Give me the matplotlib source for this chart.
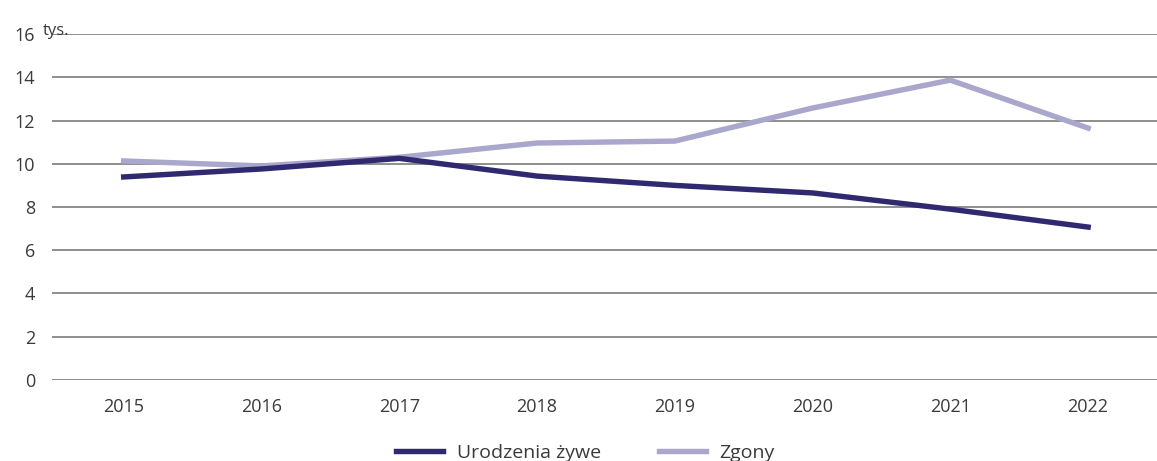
import matplotlib.pyplot as plt
import numpy as np

plt.rcParams['font.family'] = ['Open Sans', 'DejaVu Sans']

years = ['2015', '2016', '2017', '2018', '2019', '2020', '2021', '2022']
urodzenia = [9.39, 9.76, 10.25, 9.43, 9.0, 8.65, 7.9, 7.07]
zgony = [10.13, 9.9, 10.3, 10.96, 11.05, 12.58, 13.87, 11.65]
y_ticks = [0, 2, 4, 6, 8, 10, 12, 14, 16]

DARK = '#2f2a70'
LIGHT = '#aaa7cd'
GRID = '#8e8e8e'
TEXT = '#3a3a3a'

fig = plt.figure(figsize=(11.57, 4.61), dpi=100)
ax = fig.add_axes([0.045, 0.176, 0.955, 0.75])

x = np.arange(len(years))
for t in y_ticks:
    ax.axhline(t, color=GRID, lw=1.4, zorder=1)

ax.plot(x, zgony, color=LIGHT, lw=3.9, label='Zgony', zorder=3)
ax.plot(x, urodzenia, color=DARK, lw=3.9, label='Urodzenia żywe', zorder=4)

ax.set_xlim(-0.52, 7.5)
ax.set_ylim(0, 16)
ax.set_xticks(x)
ax.set_xticklabels(years)
ax.set_yticks(y_ticks)
ax.tick_params(axis='both', length=0, labelsize=13, colors=TEXT)
ax.tick_params(axis='y', pad=12)
ax.tick_params(axis='x', pad=13)
for s in ax.spines.values():
    s.set_visible(False)

fig.text(0.037, 0.925, 'tys.', fontsize=12, color=TEXT, va='baseline')

handles, labels = ax.get_legend_handles_labels()
fig.legend(handles[::-1], labels[::-1], loc='lower center', ncol=2,
           bbox_to_anchor=(0.506, -0.04), frameon=False, fontsize=14,
           handlelength=2.4, handletextpad=0.7, columnspacing=3.0,
           labelcolor=TEXT)

fig.savefig('out.png', dpi=100)
